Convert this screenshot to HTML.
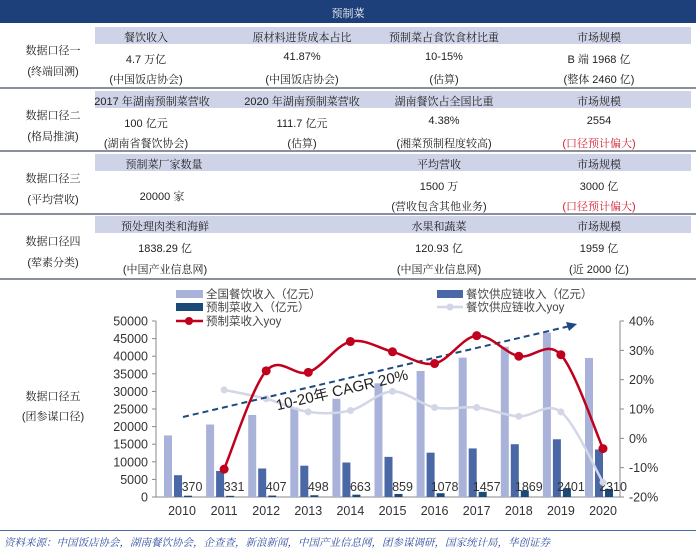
<!DOCTYPE html>
<html><head><meta charset="utf-8"><style>
*{margin:0;padding:0}
body{width:696px;height:554px;background:#fff;position:relative;overflow:hidden;font-family:"Liberation Sans","Noto Serif CJK SC","Noto Sans CJK SC",sans-serif;color:#222;font-size:11px}
.a{position:absolute;white-space:nowrap;transform:translateX(-50%)}
.bar{position:absolute}
.red{color:#d2202f}
</style></head><body>
<div class="bar" style="left:0;top:0;width:696px;height:23px;background:#1d3f7a"></div>
<div class="a" style="left:348px;top:5px;color:#fff">预制菜</div>
<!-- subheaders -->
<div class="bar" style="left:95px;top:27px;width:596px;height:17px;background:#cfd3e8"></div>
<div class="bar" style="left:0;top:87px;width:696px;height:2px;background:#8a8f9e"></div>
<div class="bar" style="left:95px;top:91px;width:596px;height:17px;background:#cfd3e8"></div>
<div class="bar" style="left:0;top:150px;width:696px;height:2px;background:#8a8f9e"></div>
<div class="bar" style="left:95px;top:154px;width:596px;height:17px;background:#cfd3e8"></div>
<div class="bar" style="left:0;top:213px;width:696px;height:2px;background:#8a8f9e"></div>
<div class="bar" style="left:95px;top:216px;width:596px;height:17px;background:#cfd3e8"></div>
<div class="bar" style="left:0;top:278px;width:696px;height:2px;background:#8a8f9e"></div>

<div class="a" style="left:53px;top:42px">数据口径一</div><div class="a" style="left:53px;top:63px">(终端回溯)</div>
<div class="a" style="left:146px;top:29px">餐饮收入</div><div class="a" style="left:302px;top:29px">原材料进货成本占比</div><div class="a" style="left:444px;top:29px">预制菜占食饮食材比重</div><div class="a" style="left:599px;top:29px">市场规模</div>
<div class="a" style="left:146px;top:51px">4.7 万亿</div><div class="a" style="left:302px;top:51px">41.87%</div><div class="a" style="left:444px;top:51px">10-15%</div><div class="a" style="left:599px;top:51px">B 端 1968 亿</div>
<div class="a" style="left:146px;top:71px">(中国饭店协会)</div><div class="a" style="left:302px;top:71px">(中国饭店协会)</div><div class="a" style="left:444px;top:71px">(估算)</div><div class="a" style="left:599px;top:71px">(整体 2460 亿)</div>

<div class="a" style="left:53px;top:107px">数据口径二</div><div class="a" style="left:53px;top:128px">(格局推演)</div>
<div class="a" style="left:152px;top:93px">2017 年湖南预制菜营收</div><div class="a" style="left:302px;top:93px">2020 年湖南预制菜营收</div><div class="a" style="left:444px;top:93px">湖南餐饮占全国比重</div><div class="a" style="left:599px;top:93px">市场规模</div>
<div class="a" style="left:146px;top:115px">100 亿元</div><div class="a" style="left:302px;top:115px">111.7 亿元</div><div class="a" style="left:444px;top:115px">4.38%</div><div class="a" style="left:599px;top:115px">2554</div>
<div class="a" style="left:146px;top:135px">(湖南省餐饮协会)</div><div class="a" style="left:302px;top:135px">(估算)</div><div class="a" style="left:444px;top:135px">(湘菜预制程度较高)</div><div class="a red" style="left:599px;top:135px">(口径预计偏大)</div>

<div class="a" style="left:53px;top:170px">数据口径三</div><div class="a" style="left:53px;top:191px">(平均营收)</div>
<div class="a" style="left:164px;top:156px">预制菜厂家数量</div><div class="a" style="left:439px;top:156px">平均营收</div><div class="a" style="left:599px;top:156px">市场规模</div>
<div class="a" style="left:162px;top:188px">20000 家</div><div class="a" style="left:439px;top:178px">1500 万</div><div class="a" style="left:599px;top:178px">3000 亿</div>
<div class="a" style="left:439px;top:198px">(营收包含其他业务)</div><div class="a red" style="left:599px;top:198px">(口径预计偏大)</div>

<div class="a" style="left:53px;top:233px">数据口径四</div><div class="a" style="left:53px;top:254px">(荤素分类)</div>
<div class="a" style="left:165px;top:218px">预处理肉类和海鲜</div><div class="a" style="left:439px;top:218px">水果和蔬菜</div><div class="a" style="left:599px;top:218px">市场规模</div>
<div class="a" style="left:165px;top:240px">1838.29 亿</div><div class="a" style="left:439px;top:240px">120.93 亿</div><div class="a" style="left:599px;top:240px">1959 亿</div>
<div class="a" style="left:165px;top:261px">(中国产业信息网)</div><div class="a" style="left:439px;top:261px">(中国产业信息网)</div><div class="a" style="left:599px;top:261px">(近 2000 亿)</div>

<div class="a" style="left:53px;top:388px">数据口径五</div><div class="a" style="left:53px;top:408px">(团参谋口径)</div>

<svg id="c" width="696" height="554" style="position:absolute;left:0;top:0" font-family="Liberation Sans,Noto Sans CJK SC,sans-serif"></svg>
<div class="bar" style="left:0;top:530px;width:696px;height:1px;background:#4a6aa8"></div>
<div style="position:absolute;left:4px;top:535px;color:#2f4f9f;font-style:italic;font-size:10.5px;white-space:nowrap">资料来源：中国饭店协会，湖南餐饮协会，企查查，新浪新闻，中国产业信息网，团参谋调研，国家统计局，华创证券</div>
<script>
var s='',x0=182,dx=42.1,yb=497,yt=321;
function Y(v){return yb-v/50000*(yb-yt)}
function P(p){return yt+(40-p)/60*(yb-yt)}
var L=[17500,20600,23300,25400,27900,32300,35800,39600,42700,46700,39500],
M=[6200,7400,8100,8900,9800,11400,12600,13800,15000,16400,13500],
D=[370,331,407,498,663,859,1078,1457,1869,2401,2310],
R=[null,-10.5,23,22.5,33,29.5,25.5,35,28,28.5,-3.5],
G=[null,16.5,13.5,9,9.5,16,10.5,10.5,7.5,9,-15];
s+='<line x1="156" y1="'+yt+'" x2="156" y2="'+yb+'" stroke="#888"/><line x1="156" y1="'+yb+'" x2="620" y2="'+yb+'" stroke="#888"/><line x1="620" y1="'+yt+'" x2="620" y2="'+yb+'" stroke="#888"/>';
for(var v=0;v<=50000;v+=5000){var y=Y(v);s+='<line x1="152" x2="156" y1="'+y+'" y2="'+y+'" stroke="#888"/><text x="148" y="'+(y+4.5)+'" font-size="12.5" text-anchor="end" fill="#333">'+v+'</text>'}
for(var p=-20;p<=40;p+=10){var y=P(p);s+='<line x1="620" x2="624" y1="'+y+'" y2="'+y+'" stroke="#888"/><text x="629" y="'+(y+4.5)+'" font-size="12.5" fill="#333">'+p+'%</text>'}
for(var i=0;i<11;i++){var c=x0+dx*i;
s+='<rect x="'+(c-18)+'" y="'+Y(L[i])+'" width="8" height="'+(yb-Y(L[i]))+'" fill="#a9b3d9"/>';
s+='<rect x="'+(c-8)+'" y="'+Y(M[i])+'" width="8" height="'+(yb-Y(M[i]))+'" fill="#4a67a6"/>';
s+='<rect x="'+(c+2)+'" y="'+Y(D[i])+'" width="8" height="'+(yb-Y(D[i]))+'" fill="#1c4a78"/>';
s+='<text x="'+c+'" y="515" font-size="12.5" text-anchor="middle" fill="#333">'+(2010+i)+'</text>';
s+='<text x="'+(c+10)+'" y="491" font-size="12.5" text-anchor="middle" fill="#333">'+D[i]+'</text>';}
function path(a){var pts=[];for(var i=1;i<11;i++)pts.push([x0+dx*i,P(a[i])]);var d='M'+pts[0];for(var i=0;i<pts.length-1;i++){var p0=pts[i-1]||pts[i],p1=pts[i],p2=pts[i+1],p3=pts[i+2]||p2;d+=' C'+(p1[0]+(p2[0]-p0[0])/6)+','+(p1[1]+(p2[1]-p0[1])/6)+' '+(p2[0]-(p3[0]-p1[0])/6)+','+(p2[1]-(p3[1]-p1[1])/6)+' '+p2}return [d,pts]}
var g=path(G);s+='<path d="'+g[0]+'" fill="none" stroke="#d3d6e6" stroke-width="2.5"/>';g[1].forEach(function(q){s+='<circle cx="'+q[0]+'" cy="'+q[1]+'" r="3.5" fill="#d3d6e6"/>'});
s+='<line x1="183" y1="417" x2="570" y2="326" stroke="#1d4a80" stroke-width="2" stroke-dasharray="6,4"/><polygon points="577,324 566,322 569,331" fill="#1d4a80"/>';
s+='<text x="342" y="395" font-size="15" fill="#222" text-anchor="middle" transform="rotate(-13.3 342 390)">10-20年 CAGR 20%</text>';
var r=path(R);s+='<path d="'+r[0]+'" fill="none" stroke="#c0001d" stroke-width="2.5"/>';r[1].forEach(function(q){s+='<circle cx="'+q[0]+'" cy="'+q[1]+'" r="4.5" fill="#c0001d"/>'});
s+='<rect x="176" y="290" width="27" height="8" fill="#a9b3d9"/><text x="206" y="298" font-size="11.5" fill="#444">全国餐饮收入（亿元）</text>';
s+='<rect x="176" y="303" width="27" height="8" fill="#1c4a78"/><text x="206" y="311" font-size="11.5" fill="#444">预制菜收入（亿元）</text>';
s+='<line x1="176" x2="203" y1="321" y2="321" stroke="#c0001d" stroke-width="2.5"/><circle cx="189" cy="321" r="4" fill="#c0001d"/><text x="206" y="325" font-size="11.5" fill="#444">预制菜收入yoy</text>';
s+='<rect x="437" y="290" width="26" height="8" fill="#4a67a6"/><text x="466" y="298" font-size="11.5" fill="#444">餐饮供应链收入（亿元）</text>';
s+='<line x1="437" x2="463" y1="307" y2="307" stroke="#d3d6e6" stroke-width="2.5"/><circle cx="450" cy="307" r="3.5" fill="#d3d6e6"/><text x="466" y="311" font-size="11.5" fill="#444">餐饮供应链收入yoy</text>';
document.getElementById('c').innerHTML=s;
</script>
</body></html>
